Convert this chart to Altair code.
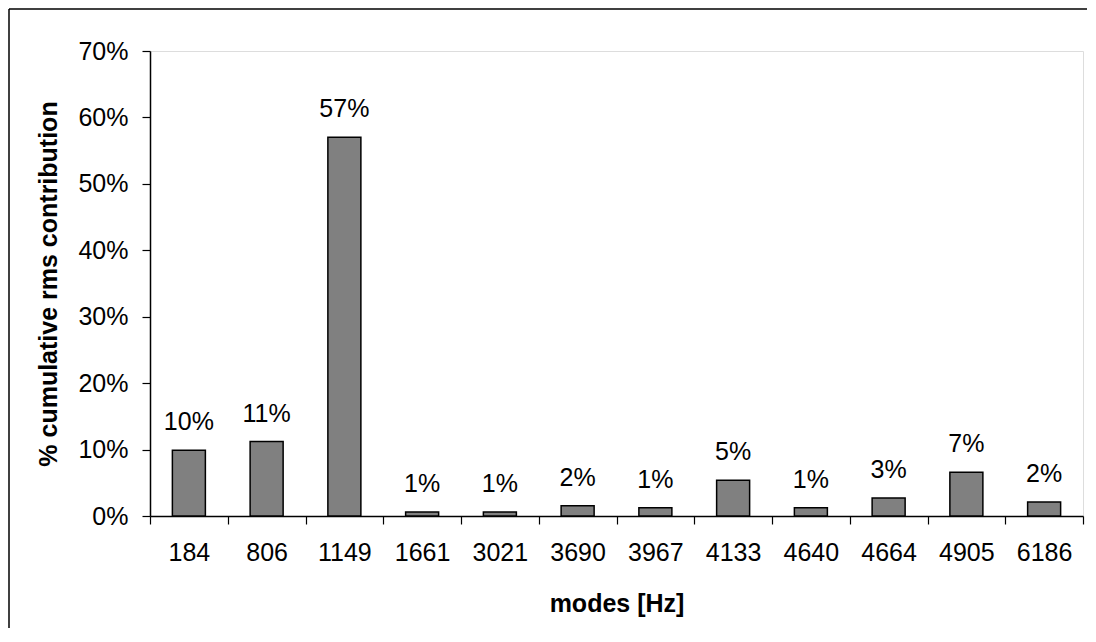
import altair as alt
import pandas as pd

modes = ["184", "806", "1149", "1661", "3021", "3690", "3967", "4133", "4640", "4664", "4905", "6186"]
contrib = [0.099, 0.112, 0.570, 0.006, 0.006, 0.0155, 0.0125, 0.054, 0.0125, 0.027, 0.066, 0.021]
labels = ["10%", "11%", "57%", "1%", "1%", "2%", "1%", "5%", "1%", "3%", "7%", "2%"]
y_ticks = [0, 0.1, 0.2, 0.3, 0.4, 0.5, 0.6, 0.7]

df = pd.DataFrame({"mode": modes, "value": contrib, "label": labels})

FONT = "Liberation Sans"
W, H = 933, 465

x_enc = alt.X(
    "mode:N", sort=modes,
    scale=alt.Scale(paddingInner=0, paddingOuter=0),
    axis=alt.Axis(
        title="modes [Hz]", labelAngle=0, labelFontSize=25, labelFont=FONT,
        labelColor="black", labelPadding=16, tickSize=8, tickColor="black",
        tickBand="extent", domainColor="black", domainWidth=1.5, tickWidth=1.2,
        titleFont=FONT, titleFontSize=25, titleFontWeight="bold", titleColor="black",
        titleX=W / 2, titleY=87, titleBaseline="middle", titleAlign="center",
    ),
)

y_enc = alt.Y(
    "value:Q",
    scale=alt.Scale(domain=[0, 0.7], nice=False),
    axis=alt.Axis(
        title="% cumulative rms contribution", values=y_ticks, format=".0%",
        labelFontSize=25, labelFont=FONT, labelColor="black", labelPadding=14,
        tickSize=8, tickColor="black", tickWidth=1.2, domainColor="black", domainWidth=1.5,
        grid=False, titleFont=FONT, titleFontSize=25, titleFontWeight="bold",
        titleColor="black", titleX=-102, titleY=H / 2, titleBaseline="middle",
        titleAlign="center", titleAngle=270,
    ),
)

base = alt.Chart(df)

bars = base.mark_bar(size=33, color="#808080", stroke="black", strokeWidth=1.5).encode(
    x=x_enc, y=y_enc
)

text = base.mark_text(
    baseline="alphabetic", dy=-20, fontSize=25, font=FONT, color="black"
).encode(x=alt.X("mode:N", sort=modes), y="value:Q", text="label:N")

one = pd.DataFrame({"a": [0]})
top_border = alt.Chart(one).mark_rule(color="black", strokeWidth=1.5).encode(
    x=alt.value(-141), x2=alt.value(W + 4), y=alt.value(-42)
)
left_border = alt.Chart(one).mark_rule(color="black", strokeWidth=1.5).encode(
    x=alt.value(-141), y=alt.value(-42), y2=alt.value(H + 112)
)

chart = alt.layer(bars, text, top_border, left_border).properties(
    width=W, height=H,
    padding={"left": 142, "top": 43, "right": 4, "bottom": 112},
    autosize=alt.AutoSizeParams(type="none"),
).configure_view(
    stroke="#808080", strokeWidth=2
).configure(background="white")

chart.save("out.html", embed_options={"renderer": "svg", "actions": False})
